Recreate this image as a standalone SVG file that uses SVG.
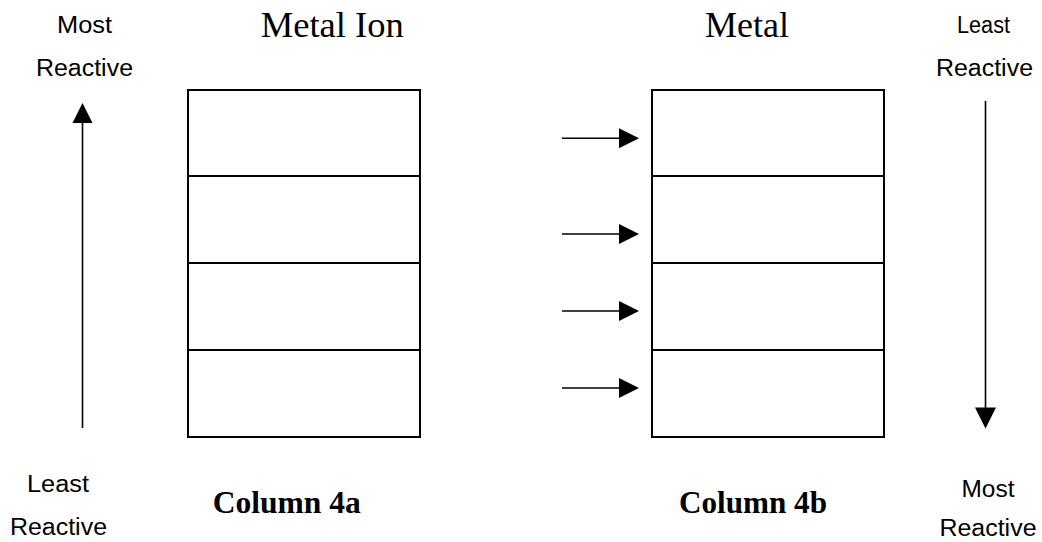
<svg xmlns="http://www.w3.org/2000/svg" width="1042" height="542" viewBox="0 0 1042 542">
<style>
.box{fill:#fff;stroke:#000;stroke-width:2}
.div{stroke:#000;stroke-width:2}
.conn{stroke:#000;stroke-width:1.6;fill:none}
.head{fill:#000}
.lbl{font-family:"Liberation Sans",Arial,sans-serif;font-size:23.5px;fill:#000;text-anchor:middle}
.title{font-family:"Liberation Serif","Times New Roman",serif;font-size:36px;fill:#000;text-anchor:middle}
.col{font-family:"Liberation Serif","Times New Roman",serif;font-size:31.5px;font-weight:bold;fill:#000;text-anchor:middle}
</style>
<rect width="1042" height="542" fill="#fff"/>
<g id="label-left-top">
<text class="lbl" x="84.5" y="33" textLength="55" lengthAdjust="spacingAndGlyphs">Most</text>
<text class="lbl" x="84.5" y="76" textLength="97" lengthAdjust="spacingAndGlyphs">Reactive</text>
</g>
<g id="label-right-top">
<text class="lbl" x="983.5" y="33" textLength="53" lengthAdjust="spacingAndGlyphs">Least</text>
<text class="lbl" x="984.5" y="76" textLength="97" lengthAdjust="spacingAndGlyphs">Reactive</text>
</g>
<g id="label-left-bottom">
<text class="lbl" x="58" y="492" textLength="62" lengthAdjust="spacingAndGlyphs">Least</text>
<text class="lbl" x="58.5" y="535" textLength="97" lengthAdjust="spacingAndGlyphs">Reactive</text>
</g>
<g id="label-right-bottom">
<text class="lbl" x="988" y="497" textLength="53" lengthAdjust="spacingAndGlyphs">Most</text>
<text class="lbl" x="988" y="536" textLength="97" lengthAdjust="spacingAndGlyphs">Reactive</text>
</g>
<g id="title-metal-ion"><text class="title" x="332.3" y="36.7" textLength="143" lengthAdjust="spacingAndGlyphs">Metal Ion</text></g>
<g id="title-metal"><text class="title" x="747" y="36.7" textLength="84" lengthAdjust="spacingAndGlyphs">Metal</text></g>
<g id="column-4a">
<rect class="box" x="188" y="90" width="232" height="347"/>
<line class="div" x1="188" y1="176" x2="420" y2="176"/>
<line class="div" x1="188" y1="263" x2="420" y2="263"/>
<line class="div" x1="188" y1="350" x2="420" y2="350"/>
<text class="col" x="286.7" y="513" textLength="148" lengthAdjust="spacingAndGlyphs">Column 4a</text>
</g>
<g id="column-4b">
<rect class="box" x="652" y="90" width="232" height="347"/>
<line class="div" x1="652" y1="176" x2="884" y2="176"/>
<line class="div" x1="652" y1="263" x2="884" y2="263"/>
<line class="div" x1="652" y1="350" x2="884" y2="350"/>
<text class="col" x="753" y="513" textLength="148" lengthAdjust="spacingAndGlyphs">Column 4b</text>
</g>
<g id="connectors">
<line class="conn" x1="82.5" y1="428" x2="82.5" y2="121"/>
<polygon class="head" points="82.5,103 72.5,123 92.5,123"/>
<line class="conn" x1="985.5" y1="101" x2="985.5" y2="409"/>
<polygon class="head" points="985.5,428.5 975,407.5 996,407.5"/>
<line class="conn" x1="562" y1="138.3" x2="621" y2="138.3"/>
<polygon class="head" points="639,138.3 619,128.3 619,148.3"/>
<line class="conn" x1="562" y1="234" x2="621" y2="234"/>
<polygon class="head" points="639,234 619,224 619,244"/>
<line class="conn" x1="562" y1="311" x2="621" y2="311"/>
<polygon class="head" points="639,311 619,301 619,321"/>
<line class="conn" x1="562" y1="388" x2="621" y2="388"/>
<polygon class="head" points="639,388 619,378 619,398"/>
</g>
</svg>
